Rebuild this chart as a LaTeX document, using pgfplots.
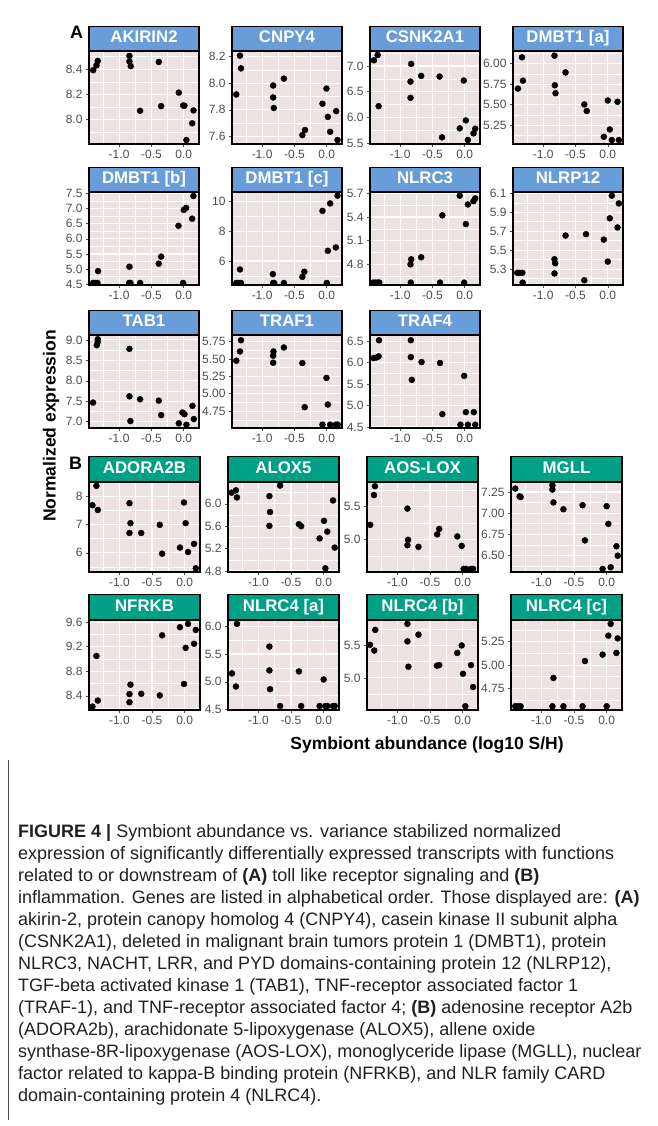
\documentclass[border=0pt]{standalone}
\usepackage{fontspec}
\setmainfont{Liberation Sans}
\usepackage{pgfplots}
\pgfplotsset{compat=1.18}
\definecolor{stripAcol}{RGB}{104,157,217}
\definecolor{stripBcol}{RGB}{0,160,135}
\definecolor{panelbg}{RGB}{235,226,225}
\definecolor{tickgray}{RGB}{77,77,77}
\definecolor{captxt}{RGB}{35,31,32}
\pgfplotsset{
  panel/.style={
    scale only axis, anchor=south west,
    width=110pt, height=93pt,
    xmin=-1.465, xmax=0.235,
    axis background/.style={fill=panelbg},
    axis line style={black, line width=1.1pt},
    grid=both,
    major grid style={white, line width=1.1pt},
    minor grid style={white, line width=0.5pt},
    tick align=outside, tick pos=left,
    major tick length=3pt, minor tick length=0pt,
    tick style={tickgray, line width=0.6pt},
    xtick={-1,-0.5,0}, xticklabels={{-1.0},{-0.5},{0.0}},
    minor xtick={-1.25,-0.75,-0.25},
    ticklabel style={font=\fontsize{12}{12}\selectfont, text=tickgray},
    every axis title shift=0pt,
    title style={at={(0.5,1)}, anchor=south, yshift=0pt, inner sep=0pt,
      minimum height=24pt, text height=12pt, text depth=3.5pt,
      draw=black, line width=1.1pt, text=white,
      font=\fontsize{16.8}{17}\selectfont\bfseries},
  },
  stripA/.style={width=110pt, title style={fill=stripAcol, minimum width=110pt}},
  stripB/.style={width=111pt, height=89.5pt, title style={fill=stripBcol, minimum width=111pt, minimum height=25pt}},
  pts/.style={only marks, mark=*, mark size=3pt, black, mark options={draw=none, fill=black}},
}
\begin{document}
\begin{tikzpicture}
\path[use as bounding box] (0pt,0pt) rectangle (657pt,1126pt);
% ---------------- A row 1 ----------------
\begin{axis}[panel, stripA, at={(89pt,982pt)}, title={AKIRIN2},
  ymin=7.807, ymax=8.544, ytick={8.0,8.2,8.4}, yticklabels={8.0,8.2,8.4}, minor ytick={7.9,8.1,8.3,8.5}]
\addplot[pts] coordinates {(-1.40,8.392)(-1.35,8.43)(-1.33,8.465)(-0.84,8.505)(-0.84,8.46)(-0.82,8.424)(-0.675,8.07)(-0.387,8.457)(-0.35,8.107)(-0.077,8.214)(-0.01,8.112)(0.01,8.11)(0.04,7.838)(0.13,7.971)(0.15,8.073)};
\end{axis}
\begin{axis}[panel, stripA, at={(232pt,982pt)}, title={CNPY4},
  ymin=7.543, ymax=8.243, ytick={7.6,7.8,8.0,8.2}, yticklabels={7.6,7.8,8.0,8.2}, minor ytick={7.7,7.9,8.1}]
\addplot[pts] coordinates {(-1.342,8.208)(-1.326,8.112)(-1.399,7.916)(-0.829,7.983)(-0.829,7.893)(-0.819,7.814)(-0.663,8.035)(-0.337,7.648)(-0.378,7.61)(-0.067,7.846)(-0.005,7.96)(0.016,7.747)(0.052,7.635)(0.145,7.79)(0.166,7.573)};
\end{axis}
\begin{axis}[panel, stripA, at={(370pt,982pt)}, title={CSNK2A1},
  ymin=5.483, ymax=7.293, ytick={5.5,6.0,6.5,7.0}, yticklabels={5.5,6.0,6.5,7.0}, minor ytick={5.75,6.25,6.75,7.25}]
\addplot[pts] coordinates {(-1.404,7.112)(-1.347,7.215)(-1.332,6.22)(-0.829,7.041)(-0.839,6.698)(-0.839,6.381)(-0.674,6.808)(-0.389,6.795)(-0.352,5.612)(-0.016,6.718)(0.016,5.942)(-0.078,5.787)(0.047,5.56)(0.135,5.69)(0.161,5.78)};
\end{axis}
\begin{axis}[panel, stripA, at={(513pt,982pt)}, title={DMBT1 [a]},
  ymin=5.022, ymax=6.155, ytick={5.25,5.5,5.75,6.0}, yticklabels={5.25,5.50,5.75,6.00}, minor ytick={5.125,5.375,5.625,5.875,6.125}]
\addplot[pts] coordinates {(-1.389,5.697)(-1.326,6.078)(-1.311,5.793)(-0.824,6.098)(-0.819,5.737)(-0.808,5.641)(-0.653,5.894)(-0.363,5.504)(-0.326,5.424)(0.0,5.552)(0.031,5.199)(-0.062,5.110)(0.062,5.070)(0.150,5.536)(0.171,5.07)};
\end{axis}
% ---------------- A row 2 ----------------
\begin{axis}[panel, stripA, at={(89pt,841pt)}, title={DMBT1 [b]},
  ymin=4.478, ymax=7.543, ytick={4.5,5.0,5.5,6.0,6.5,7.0,7.5}, yticklabels={4.5,5.0,5.5,6.0,6.5,7.0,7.5}, minor ytick={4.75,5.25,5.75,6.25,6.75,7.25}]
\addplot[pts] coordinates {(-1.402,4.545)(-1.371,4.545)(-1.335,4.545)(-1.325,4.935)(-0.84,5.08)(-0.845,4.545)(-0.825,4.545)(-0.675,4.545)(-0.387,5.18)(-0.35,5.414)(-0.082,6.429)(0,6.953)(0.036,7.02)(-0.01,4.545)(0.129,6.663)(0.149,7.41)};
\end{axis}
\begin{axis}[panel, stripA, at={(232pt,841pt)}, title={DMBT1 [c]},
  ymin=4.377, ymax=10.66, ytick={6,8,10}, yticklabels={6,8,10}, minor ytick={5,7,9}]
\addplot[pts] coordinates {(-1.399,4.514)(-1.368,4.514)(-1.326,4.514)(-1.342,5.429)(-0.834,5.109)(-0.829,4.514)(-0.813,4.514)(-0.663,4.514)(-0.378,4.926)(-0.347,5.269)(-0.067,9.383)(0.052,9.886)(0,4.514)(0.016,6.686)(0.140,6.914)(0.166,10.411)};
\end{axis}
\begin{axis}[panel, stripA, at={(370pt,841pt)}, title={NLRC3},
  ymin=4.539, ymax=5.717, ytick={4.8,5.1,5.4,5.7}, yticklabels={4.8,5.1,5.4,5.7}, minor ytick={4.65,4.95,5.25,5.55}]
\addplot[pts] coordinates {(-1.415,4.569)(-1.378,4.569)(-1.347,4.569)(-1.321,4.569)(-0.834,4.569)(-0.829,4.864)(-0.839,4.8)(-0.674,4.89)(-0.383,4.569)(-0.347,5.421)(-0.078,5.67)(-0.01,4.569)(0.016,5.31)(0.047,5.559)(0.135,5.601)(0.161,5.636)};
\end{axis}
\begin{axis}[panel, stripA, at={(513pt,841pt)}, title={NLRP12},
  ymin=5.132, ymax=6.114, ytick={5.3,5.5,5.7,5.9,6.1}, yticklabels={5.3,5.5,5.7,5.9,6.1}, minor ytick={5.2,5.4,5.6,5.8,6.0}]
\addplot[pts] coordinates {(-1.399,5.261)(-1.363,5.261)(-1.321,5.261)(-1.316,5.157)(-0.824,5.404)(-0.813,5.361)(-0.824,5.254)(-0.653,5.654)(-0.337,5.668)(-0.363,5.182)(-0.062,5.611)(0,5.379)(0.031,5.836)(0.062,6.075)(0.150,5.739)(0.171,5.993)};
\end{axis}
% ---------------- A row 3 ----------------
\begin{axis}[panel, stripA, at={(89pt,698pt)}, title={TAB1},
  ymin=6.847, ymax=9.121, ytick={7.0,7.5,8.0,8.5,9.0}, yticklabels={7.0,7.5,8.0,8.5,9.0}, minor ytick={7.25,7.75,8.25,8.75}]
\addplot[pts] coordinates {(-1.402,7.468)(-1.345,8.871)(-1.33,8.952)(-1.33,9.016)(-0.84,8.782)(-0.84,7.621)(-0.825,7.016)(-0.675,7.548)(-0.387,7.516)(-0.35,7.161)(-0.077,6.96)(-0.021,7.226)(0.01,7.185)(0.041,6.927)(0.134,7.387)(0.155,7.065)};
\end{axis}
\begin{axis}[panel, stripA, at={(232pt,698pt)}, title={TRAF1},
  ymin=4.507, ymax=5.844, ytick={4.75,5.0,5.25,5.5,5.75}, yticklabels={4.75,5.00,5.25,5.50,5.75}, minor ytick={4.625,4.875,5.125,5.375,5.625}]
\addplot[pts] coordinates {(-1.399,5.474)(-1.342,5.607)(-1.326,5.768)(-0.829,5.545)(-0.824,5.607)(-0.829,5.445)(-0.663,5.664)(-0.378,5.441)(-0.342,4.806)(-0.005,5.227)(0.016,4.844)(-0.067,4.555)(0.052,4.555)(0.14,4.555)(0.171,4.555)};
\end{axis}
\begin{axis}[panel, stripA, at={(370pt,698pt)}, title={TRAF4},
  ymin=4.477, ymax=6.646, ytick={4.5,5.0,5.5,6.0,6.5}, yticklabels={4.5,5.0,5.5,6.0,6.5}, minor ytick={4.75,5.25,5.75,6.25}]
\addplot[pts] coordinates {(-1.409,6.108)(-1.363,6.123)(-1.332,6.146)(-1.326,6.523)(-0.834,6.523)(-0.834,6.131)(-0.819,5.6)(-0.668,6.015)(-0.383,5.992)(-0.347,4.8)(-0.01,5.692)(0.016,4.846)(-0.067,4.554)(0.047,4.554)(0.140,4.846)(0.161,4.554)};
\end{axis}
% ---------------- B row 1 ----------------
\begin{axis}[panel, stripB, at={(89pt,554pt)}, title={ADORA2B},
  ymin=5.323, ymax=8.485, ytick={6,7,8}, yticklabels={6,7,8}, minor ytick={5.5,6.5,7.5}]
\addplot[pts] coordinates {(-1.412,7.683)(-1.351,8.365)(-1.33,7.515)(-0.845,7.754)(-0.83,7.048)(-0.845,6.701)(-0.665,6.701)(-0.381,6.988)(-0.345,5.97)(-0.072,6.186)(-0.01,7.778)(0.015,7.048)(0.052,6.03)(0.144,6.317)(0.17,5.455)};
\end{axis}
\begin{axis}[panel, stripB, at={(228pt,554pt)}, title={ALOX5},
  ymin=4.782, ymax=6.382, ytick={4.8,5.2,5.6,6.0}, yticklabels={4.8,5.2,5.6,6.0}, minor ytick={5.0,5.4,5.8,6.2}]
\addplot[pts] coordinates {(-1.41,6.2)(-1.344,6.242)(-1.328,6.115)(-0.831,6.139)(-0.821,5.855)(-0.831,5.606)(-0.667,6.327)(-0.379,5.636)(-0.344,5.6)(-0.062,5.382)(0.005,5.697)(0.056,5.503)(0.026,4.848)(0.144,6.061)(0.169,5.218)};
\end{axis}
\begin{axis}[panel, stripB, at={(367pt,554pt)}, title={AOS-LOX},
  ymin=4.505, ymax=5.866, ytick={5.0,5.5}, yticklabels={5.0,5.5}, minor ytick={4.75,5.25,5.75}]
\addplot[pts] coordinates {(-1.415,5.222)(-1.359,5.675)(-1.344,5.809)(-0.846,5.469)(-0.836,4.995)(-0.846,4.912)(-0.677,4.887)(-0.39,5.077)(-0.359,5.16)(-0.082,5.046)(-0.015,4.902)(0.015,4.552)(0.051,4.552)(0.128,4.552)(0.159,4.552)};
\end{axis}
\begin{axis}[panel, stripB, at={(511pt,554pt)}, title={MGLL},
  ymin=6.303, ymax=7.363, ytick={6.5,6.75,7.0,7.25}, yticklabels={6.50,6.75,7.00,7.25}, minor ytick={6.375,6.625,6.875,7.125}]
\addplot[pts] coordinates {(-1.4,7.291)(-1.333,7.199)(-1.318,7.191)(-0.831,7.331)(-0.831,7.279)(-0.815,7.127)(-0.662,7.046)(-0.369,7.094)(-0.333,6.677)(0,7.082)(0.026,6.873)(-0.062,6.339)(0.062,6.359)(0.149,6.608)(0.169,6.496)};
\end{axis}
% ---------------- B row 2 ----------------
\begin{axis}[panel, stripB, at={(89pt,416pt)}, title={NFRKB},
  ymin=8.169, ymax=9.627, ytick={8.4,8.8,9.2,9.6}, yticklabels={8.4,8.8,9.2,9.6}, minor ytick={8.2,8.6,9.0,9.4}]
\addplot[pts] coordinates {(-1.412,8.224)(-1.351,9.049)(-1.33,8.323)(-0.83,8.582)(-0.845,8.428)(-0.845,8.295)(-0.665,8.433)(-0.381,8.406)(-0.345,9.385)(-0.072,9.517)(-0.01,8.593)(0.015,9.181)(0.052,9.572)(0.144,9.248)(0.17,9.473)};
\end{axis}
\begin{axis}[panel, stripB, at={(228pt,416pt)}, title={NLRC4 [a]},
  ymin=4.494, ymax=6.102, ytick={4.5,5.0,5.5,6.0}, yticklabels={4.5,5.0,5.5,6.0}, minor ytick={4.75,5.25,5.75}]
\addplot[pts] coordinates {(-1.405,5.151)(-1.328,6.042)(-1.344,4.916)(-0.831,5.633)(-0.831,5.205)(-0.821,4.867)(-0.667,4.566)(-0.379,5.187)(-0.344,4.566)(-0.062,4.566)(0,5.042)(0.026,4.566)(0.056,4.566)(0.144,4.566)(0.169,4.566)};
\end{axis}
\begin{axis}[panel, stripB, at={(367pt,416pt)}, title={NLRC4 [b]},
  ymin=4.505, ymax=5.885, ytick={5.0,5.5}, yticklabels={5.0,5.5}, minor ytick={4.75,5.25,5.75}]
\addplot[pts] coordinates {(-1.421,5.51)(-1.354,5.422)(-1.338,5.74)(-0.846,5.833)(-0.846,5.563)(-0.831,5.172)(-0.677,5.667)(-0.395,5.188)(-0.359,5.198)(-0.082,5.385)(-0.015,5.5)(0.005,5.063)(0.041,4.563)(0.128,5.198)(0.159,4.859)};
\end{axis}
\begin{axis}[panel, stripB, at={(511pt,416pt)}, title={NLRC4 [c]},
  ymin=4.518, ymax=5.478, ytick={4.75,5.0,5.25}, yticklabels={4.75,5.00,5.25}, minor ytick={4.625,4.875,5.125,5.375}]
\addplot[pts] coordinates {(-1.4,4.558)(-1.359,4.558)(-1.318,4.558)(-0.815,4.862)(-0.831,4.558)(-0.662,4.558)(-0.369,4.558)(-0.333,5.043)(0,4.558)(-0.062,5.112)(0.026,5.315)(0.062,5.442)(0.149,5.13)(0.169,5.286)};
\end{axis}
% ---------------- labels ----------------
\node[anchor=base west, inner sep=0pt, font=\fontsize{18}{18}\selectfont\bfseries] at (70pt,1087.5pt) {A};
\node[anchor=base west, inner sep=0pt, font=\fontsize{18}{18}\selectfont\bfseries] at (69pt,656pt) {B};
\node[rotate=90, inner sep=0pt, font=\fontsize{17.5}{18}\selectfont\bfseries] at (51pt,700pt) {Normalized expression};
\node[inner sep=0pt, font=\fontsize{17.5}{18}\selectfont\bfseries] at (427pt,381pt) {Symbiont abundance (log10 S/H)};
% ---------------- caption ----------------
\draw[line width=0.8pt, black!70] (8pt,366pt) -- (8pt,6pt);
\begin{scope}[every node/.style={anchor=base west, inner sep=0pt, text=captxt, font=\fontsize{18}{22}\selectfont}]
\node at (18pt,288pt) {\textbf{FIGURE 4 |} Symbiont abundance vs. variance stabilized normalized};
\node at (18pt,266pt) {expression of significantly differentially expressed transcripts with functions};
\node at (18pt,244pt) {related to or downstream of \textbf{(A)} toll like receptor signaling and \textbf{(B)}};
\node at (18pt,222pt) {inflammation. Genes are listed in alphabetical order. Those displayed are: \textbf{(A)}};
\node at (18pt,200pt) {akirin-2, protein canopy homolog 4 (CNPY4), casein kinase II subunit alpha};
\node at (18pt,178pt) {(CSNK2A1), deleted in malignant brain tumors protein 1 (DMBT1), protein};
\node at (18pt,156pt) {NLRC3, NACHT, LRR, and PYD domains-containing protein 12 (NLRP12),};
\node at (18pt,134pt) {TGF-beta activated kinase 1 (TAB1), TNF-receptor associated factor 1};
\node at (18pt,112pt) {(TRAF-1), and TNF-receptor associated factor 4; \textbf{(B)} adenosine receptor A2b};
\node at (18pt,90pt) {(ADORA2b), arachidonate 5-lipoxygenase (ALOX5), allene oxide};
\node at (18pt,68pt) {synthase-8R-lipoxygenase (AOS-LOX), monoglyceride lipase (MGLL), nuclear};
\node at (18pt,46pt) {factor related to kappa-B binding protein (NFRKB), and NLR family CARD};
\node at (18pt,24pt) {domain-containing protein 4 (NLRC4).};
\end{scope}
\end{tikzpicture}
\end{document}
